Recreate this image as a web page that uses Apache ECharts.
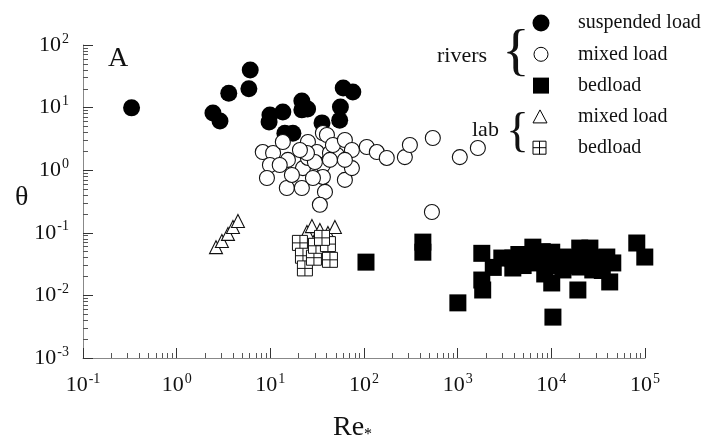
<!DOCTYPE html>
<html><head><meta charset="utf-8">
<script src="https://cdn.jsdelivr.net/npm/echarts@6/dist/echarts.min.js"></script>
<style>html,body{margin:0;padding:0;background:#fff}#c{width:707px;height:445px}</style>
</head><body><div id="c"></div>
<script>
// Re* , theta
const riversSuspended = [[0.33, 9.9], [2.44, 8.2], [2.9, 6.1], [3.6, 17], [6.1, 40], [5.9, 20], [9.9, 7.6], [9.7, 5.9], [13.6, 8.5], [21.7, 12.7], [21.7, 9.2], [25, 9.5], [14.3, 3.9], [17.4, 3.9], [35.6, 5.7], [60, 20.6], [76, 17.8], [56, 10.2], [55, 6.3]];
const riversMixed = [[8.3, 1.95], [10.7, 1.88], [9.9, 1.21], [9.2, 0.75], [15.0, 0.52], [21.7, 0.52], [18.3, 1.30], [15.4, 1.46], [25.2, 2.82], [36.4, 3.93], [40.2, 3.65], [31.4, 1.95], [43.3, 1.88], [36.4, 1.21], [36.4, 0.78], [38.3, 0.45], [33.8, 0.28], [51.4, 1.75], [62.5, 0.70], [22.3, 1.08], [25.2, 1.57], [46.6, 2.53], [62.5, 3.04], [74.3, 2.10], [74.3, 1.08], [107, 2.35], [137, 1.95], [175, 1.57], [273, 1.62], [309, 2.53], [543, 3.27], [1054, 1.62], [1643, 2.26], [531, 0.215], [13.6, 2.82], [29.9, 1.35], [24.6, 1.88], [43.3, 1.46], [12.6, 1.21], [20.7, 2.1], [62.5, 1.46], [17, 0.84], [28.5, 0.75]];
const riversBedload = [[105, 0.034], [425, 0.071], [425, 0.049], [1005, 0.0076], [1810, 0.047], [1810, 0.0176], [1850, 0.0122], [2960, 0.0395], [3880, 0.0395], [3880, 0.0274], [6350, 0.059], [6350, 0.033], [7540, 0.0395], [10100, 0.049], [10100, 0.0158], [10400, 0.0045], [13300, 0.041], [13300, 0.0255], [20100, 0.057], [25800, 0.057], [20100, 0.0284], [19200, 0.0122], [23900, 0.0367], [27700, 0.0255], [39100, 0.041], [42000, 0.0164], [45300, 0.033], [81700, 0.0687], [99500, 0.041], [5000, 0.03], [10100, 0.03], [16000, 0.04], [30000, 0.04], [2400, 0.028], [4500, 0.045], [8000, 0.05], [12000, 0.035], [17000, 0.03], [22000, 0.045], [35000, 0.025], [8500, 0.022]];
const labMixed = [[2.63, 0.059], [3.04, 0.074], [3.53, 0.096], [3.99, 0.124], [4.51, 0.154], [24.6, 0.103], [27.8, 0.128], [33.8, 0.111], [41.2, 0.099], [48.9, 0.124]];
const labBedload = [[20.7, 0.069], [22.3, 0.043], [23.4, 0.027], [29.2, 0.040], [30.7, 0.062], [41.2, 0.066], [43.3, 0.037], [35.6, 0.083]];

const xMajorTicks = [0.1, 1, 10, 100, 1000, 10000, 100000];
const yMajorTicks = [0.001, 0.01, 0.1, 1, 10, 100];
const legendLabels = ['suspended load', 'mixed load', 'bedload', 'mixed load', 'bedload'];
const groupLabels = ['rivers', 'lab'];
const xTitle = 'Re';
const yTitle = 'θ';
const panelLabel = 'A';

function minorsOf(majors) {
  const out = [];
  for (let i = 0; i < majors.length - 1; i++)
    for (let k = 2; k <= 9; k++) out.push(+(majors[i] * k).toPrecision(3));
  return out;
}
const SERIF = 'Liberation Serif';
function powLabel(v) {
  const e = Math.round(Math.log10(v));
  return '{b|10}{s|' + (e < 0 ? '-' + (-e) : e) + '}';
}
const rich = {
  b: { fontFamily: SERIF, fontSize: 22, color: '#111', lineHeight: 26 },
  s: { fontFamily: SERIF, fontSize: 14, color: '#111', verticalAlign: 'top', lineHeight: 14, padding: [0, 0, 0, 1] }
};
const axisCol = '#888';
function majorAxis(ticks, extra) {
  return Object.assign({
    type: 'log', logBase: 10, min: ticks[0], max: ticks[ticks.length - 1],
    axisLine: { show: true, lineStyle: { color: axisCol, width: 1 } },
    axisTick: { show: true, inside: true, length: 10, customValues: ticks, lineStyle: { color: '#333' } },
    axisLabel: { customValues: ticks, formatter: powLabel, rich: rich, margin: 14 },
    splitLine: { show: false }, minorTick: { show: false }
  }, extra);
}
function minorAxis(ticks, extra) {
  return Object.assign({
    type: 'log', logBase: 10, min: ticks[0], max: ticks[ticks.length - 1],
    axisLine: { show: false },
    axisTick: { show: true, inside: true, length: 5, customValues: minorsOf(ticks), lineStyle: { color: '#555' } },
    axisLabel: { show: false }, splitLine: { show: false }
  }, extra);
}

const chart = echarts.init(document.getElementById('c'), null, { renderer: 'canvas' });
const lx = 541, ly0 = 23, ldy = 31.3;
const graphics = [
  { type: 'text', left: 108, top: 45, style: { text: panelLabel, font: '28px "Liberation Serif"', fill: '#111' } },
  { type: 'text', x: 15, y: 198, style: { text: yTitle, font: '28px "Liberation Serif"', fill: '#111', verticalAlign: 'middle' } },
  { type: 'text', x: 333, y: 413, style: { text: '{r|' + xTitle + '}{u|*}', rich: { r: { fontFamily: SERIF, fontSize: 28, fill: '#111', color: '#111' }, u: { fontFamily: SERIF, fontSize: 16, color: '#111', verticalAlign: 'bottom', padding: [14, 0, 0, 0] } } } },
  { type: 'circle', shape: { cx: lx, cy: ly0, r: 8.5 }, style: { fill: '#000' } },
  { type: 'circle', shape: { cx: lx, cy: ly0 + ldy, r: 7 }, style: { fill: '#fff', stroke: '#000', lineWidth: 1 } },
  { type: 'rect', shape: { x: lx - 8, y: ly0 + 2 * ldy - 8, width: 16, height: 16 }, style: { fill: '#000' } },
  { type: 'polygon', shape: { points: [[lx - 8, ly0 + 3 * ldy + 6], [lx + 6, ly0 + 3 * ldy + 6], [lx - 1, ly0 + 3 * ldy - 7]] }, style: { fill: '#fff', stroke: '#000', lineWidth: 1 } },
  { type: 'rect', shape: { x: lx - 8, y: ly0 + 4 * ldy - 7, width: 13, height: 13 }, style: { fill: '#fff', stroke: '#000', lineWidth: 1 } },
  { type: 'line', shape: { x1: lx - 1.5, y1: ly0 + 4 * ldy - 7, x2: lx - 1.5, y2: ly0 + 4 * ldy + 6 }, style: { stroke: '#000', lineWidth: 1 } },
  { type: 'line', shape: { x1: lx - 8, y1: ly0 + 4 * ldy - 0.5, x2: lx + 5, y2: ly0 + 4 * ldy - 0.5 }, style: { stroke: '#000', lineWidth: 1 } },
  { type: 'text', x: 437, y: 56, style: { text: groupLabels[0], font: '22px "Liberation Serif"', fill: '#111', verticalAlign: 'middle' } },
  { type: 'text', x: 502, y: 54, style: { text: '{', font: '58px "Liberation Serif"', fill: '#111', verticalAlign: 'middle' } },
  { type: 'text', x: 472, y: 130, style: { text: groupLabels[1], font: '22px "Liberation Serif"', fill: '#111', verticalAlign: 'middle' } },
  { type: 'text', x: 506, y: 133, style: { text: '{', font: '48px "Liberation Serif"', fill: '#111', verticalAlign: 'middle' } }
];
legendLabels.forEach((t, i) => graphics.push({ type: 'text', x: 578, y: ly0 + i * ldy, style: { text: t, font: '20px "Liberation Serif"', fill: '#111', verticalAlign: 'middle' } }));

chart.setOption({
  animation: false,
  backgroundColor: '#fff',
  grid: { left: 83, right: 62, top: 45, bottom: 87, containLabel: false },
  xAxis: [majorAxis(xMajorTicks, { position: 'bottom' }), minorAxis(xMajorTicks, { position: 'bottom' })],
  yAxis: [majorAxis(yMajorTicks, { position: 'left' }), minorAxis(yMajorTicks, { position: 'left' })],
  graphic: graphics,
  series: [
    { type: 'scatter', name: 'rivers suspended load', data: riversSuspended, symbol: 'circle', symbolSize: 17, itemStyle: { color: '#000', opacity: 1 } },
    { type: 'scatter', name: 'rivers mixed load', data: riversMixed, symbol: 'circle', symbolSize: 15, itemStyle: { color: '#fff', borderColor: '#111', borderWidth: 1.1, opacity: 1 } },
    { type: 'scatter', name: 'rivers bedload', data: riversBedload, symbol: 'rect', symbolSize: 17, itemStyle: { color: '#000', opacity: 1 } },
    { type: 'scatter', name: 'lab mixed load', data: labMixed, symbol: 'triangle', symbolSize: 13, itemStyle: { color: '#fff', borderColor: '#111', borderWidth: 1.1, opacity: 1 } },
    { type: 'scatter', name: 'lab bedload', data: labBedload, symbol: 'path://M0 0H10V10H0ZM5 0V10M0 5H10', symbolSize: 15, itemStyle: { color: '#fff', borderColor: '#111', borderWidth: 1, opacity: 1 } }
  ]
});
</script></body></html>
